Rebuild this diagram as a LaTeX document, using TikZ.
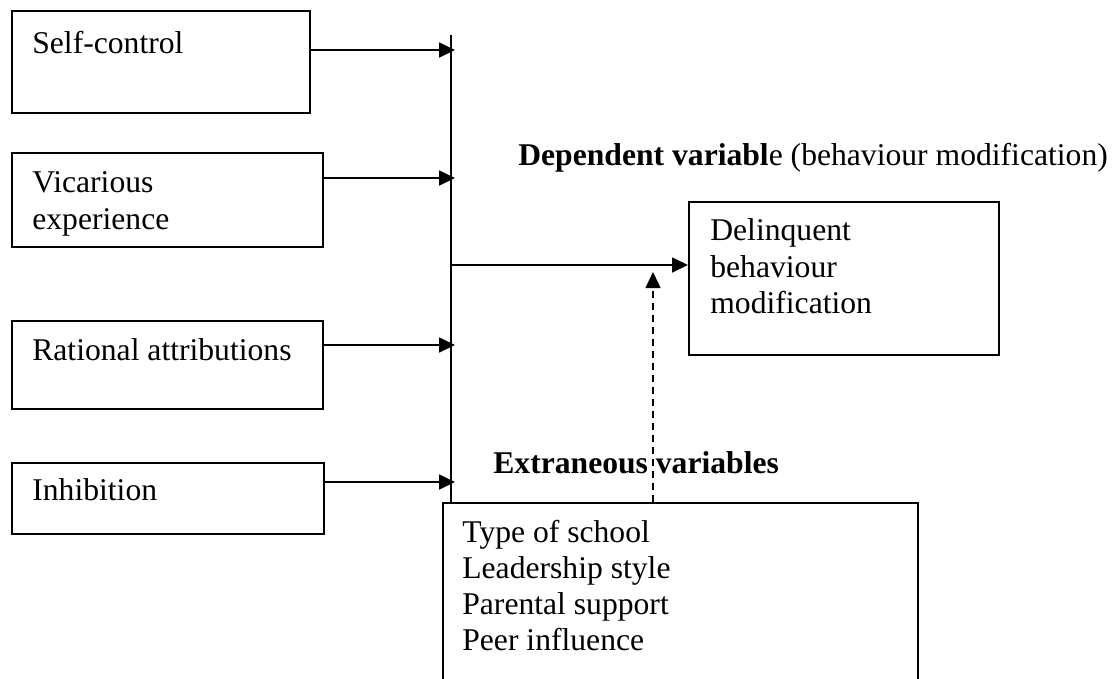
\documentclass[tikz,border=0pt]{standalone}
\usepackage{fontspec}
\setmainfont{Liberation Serif}
\usetikzlibrary{arrows.meta,positioning,calc}

\tikzset{
  box/.style={draw, line width=1pt, anchor=north west, inner sep=0pt},
  txt/.style={anchor=north west, inner sep=0pt, align=left, font=\fontsize{18}{20.6}\selectfont},
  tip/.style={-{Triangle[length=0.32cm,width=0.30cm]}, line width=1pt},
}

\begin{document}
\begin{tikzpicture}
	\useasboundingbox (0,0) rectangle (22.4,-13.56);
	
	% Self-control
	\node[box, minimum width=5.96cm, minimum height=2.04cm] (selfbox) at (0.22,-0.20) {};
	\node[txt] (selftxt) at (0.64,-0.61) {Self-control};
	
	% Vicarious experience
	\node[box, minimum width=6.22cm, minimum height=1.88cm] (vicbox) at (0.22,-3.04) {};
	\node[txt] (victxt) at (0.64,-3.43) {Vicarious\\experience};
	
	% Rational attributions
	\node[box, minimum width=6.22cm, minimum height=1.76cm] (ratbox) at (0.22,-6.40) {};
	\node[txt] (rattxt) at (0.64,-6.77) {Rational attributions};
	
	% Inhibition
	\node[box, minimum width=6.24cm, minimum height=1.42cm] (inhbox) at (0.22,-9.24) {};
	\node[txt] (inhtxt) at (0.64,-9.57) {Inhibition};
	
	% Collecting line
	\coordinate (bustop) at (9.02,-0.70);
	\coordinate (busbot) at (9.02,-10.04);
	\draw[line width=1pt] (bustop) -- (busbot);
	\coordinate (in1) at (9.02,-1.00);
	\coordinate (in2) at (9.02,-3.56);
	\coordinate (in3) at (9.02,-6.90);
	\coordinate (in4) at (9.02,-9.64);
	\draw[tip, shorten >=-0.08cm] (selfbox.east |- in1) -- (in1);
	\draw[tip, shorten >=-0.08cm] (vicbox.east |- in2) -- (in2);
	\draw[tip, shorten >=-0.08cm] (ratbox.east |- in3) -- (in3);
	\draw[tip, shorten >=-0.08cm] (inhbox.east |- in4) -- (in4);
	
	% Dependent variable
	\node[anchor=base west, inner sep=0pt, font=\fontsize{18}{20.6}\selectfont] (deptitle) at (10.36,-3.30) {\textbf{Dependent variabl}e (behaviour modification)};
	\node[box, minimum width=6.20cm, minimum height=3.06cm] (delbox) at (13.76,-4.02) {};
	\node[txt] (deltxt) at (14.20,-4.37) {Delinquent\\behaviour\\modification};
	\coordinate (out) at (9.02,-5.30);
	\draw[tip] (out) -- (out -| delbox.west);
	
	% Extraneous variables
	\node[anchor=base west, inner sep=0pt, font=\fontsize{18}{20.6}\selectfont\bfseries] (exttitle) at (9.86,-9.46) {Extraneous variables};
	\node[box, minimum width=9.50cm, minimum height=4.0cm] (extbox) at (8.84,-10.04) {};
	\node[txt] (exttxt) at (9.24,-10.39) {Type of school\\Leadership style\\Parental support\\Peer influence};
	\coordinate (dashfoot) at (13.06,-10.04);
	\coordinate (dashhead) at (13.06,-5.44);
	\draw[tip, line width=0.8pt, dash pattern=on 0.14cm off 0.10cm] (dashfoot) -- (dashhead);
\end{tikzpicture}
\end{document}
